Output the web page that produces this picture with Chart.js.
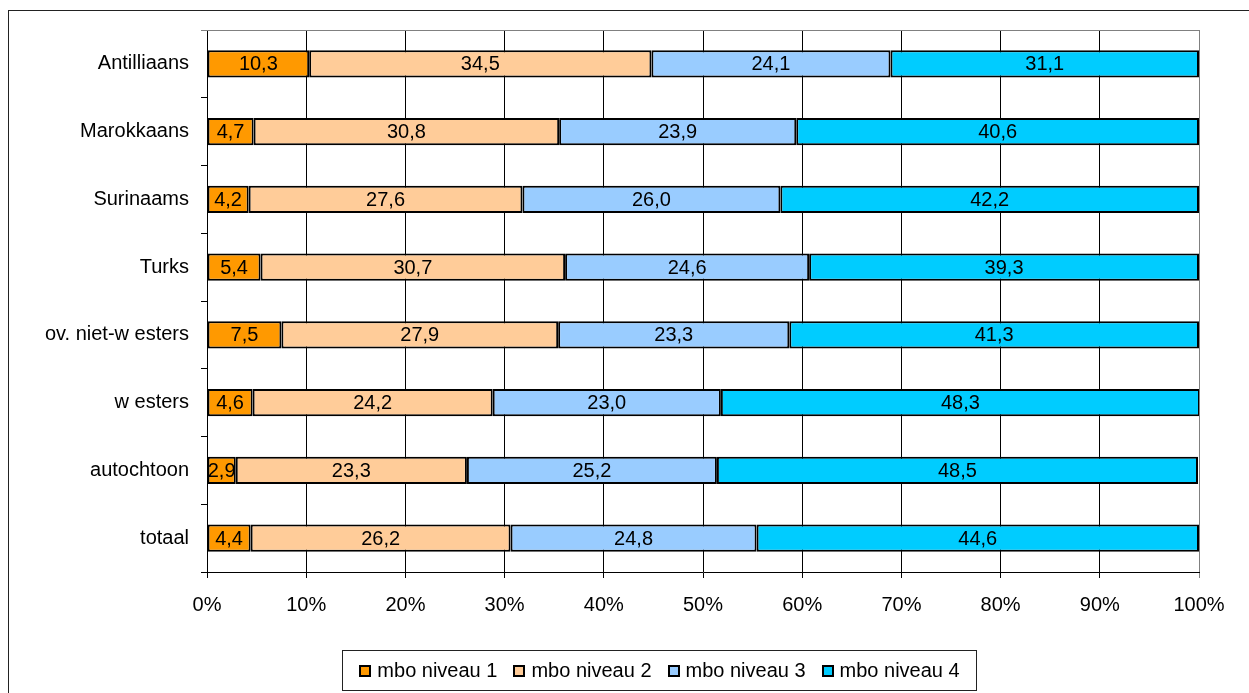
<!DOCTYPE html>
<html>
<head>
<meta charset="utf-8">
<script src="https://cdn.jsdelivr.net/npm/chart.js@4"></script>
<style>
    body { margin: 0; width: 1249px; height: 693px; overflow: hidden; background: #fff; font-family: "Liberation Sans", Arial, sans-serif; }
    #kader { position: absolute; left: 8px; top: 10px; width: 1400px; height: 900px; border: 1px solid #222; }
    #grafiek { position: absolute; left: 0; top: 0; width: 1249px; height: 693px; }
    #legenda { position: absolute; left: 342px; top: 650px; width: 633px; height: 39px; border: 1px solid #222;
               display: flex; align-items: center; justify-content: center; gap: 16px; font-size: 20px; color: #000; }
    .item { display: flex; align-items: center; }
    .blokje { width: 8px; height: 8px; border: 2px solid #000; margin-right: 6px; }
</style>
</head>
<body>
<div id="kader"></div>
<div id="grafiek"><canvas id="myChart"></canvas></div>
<div id="legenda"></div>

<script>
    // categorieen van boven naar beneden
    const categorieen = ['Antilliaans', 'Marokkaans', 'Surinaams', 'Turks', 'ov. niet-w esters', 'w esters', 'autochtoon', 'totaal'];

    const niveau1 = [10.3, 4.7, 4.2, 5.4, 7.5, 4.6, 2.9, 4.4];
    const niveau2 = [34.5, 30.8, 27.6, 30.7, 27.9, 24.2, 23.3, 26.2];
    const niveau3 = [24.1, 23.9, 26.0, 24.6, 23.3, 23.0, 25.2, 24.8];
    const niveau4 = [31.1, 40.6, 42.2, 39.3, 41.3, 48.3, 48.5, 44.6];

    const reeksNamen = ['mbo niveau 1', 'mbo niveau 2', 'mbo niveau 3', 'mbo niveau 4'];
    const kleuren = ['#FF9900', '#FFCC99', '#99CCFF', '#00CCFF'];
    const asTicks = [0, 10, 20, 30, 40, 50, 60, 70, 80, 90, 100];

    const reeksen = [niveau1, niveau2, niveau3, niveau4];
    const lettertype = '"Liberation Sans", Arial, sans-serif';

    // waarden in de balken tekenen
    const labelPlugin = {
        id: 'waardeLabels',
        afterDatasetsDraw(chart) {
            const ctx = chart.ctx;
            ctx.save();
            ctx.font = '20px ' + lettertype;
            ctx.fillStyle = '#000';
            ctx.textAlign = 'center';
            ctx.textBaseline = 'middle';
            chart.data.datasets.forEach((ds, i) => {
                chart.getDatasetMeta(i).data.forEach((el, j) => {
                    const p = el.getCenterPoint();
                    ctx.fillText(ds.data[j].toFixed(1).replace('.', ','), p.x, p.y + 1);
                });
            });
            ctx.restore();
        }
    };

    // grijze rand boven het plotgebied
    const randPlugin = {
        id: 'rand',
        beforeDatasetsDraw(chart) {
            const a = chart.chartArea;
            const ctx = chart.ctx;
            ctx.save();
            ctx.strokeStyle = '#808080';
            ctx.lineWidth = 1;
            ctx.beginPath();
            ctx.moveTo(a.left - 6, a.top + 0.5);
            ctx.lineTo(a.right, a.top + 0.5);
            ctx.stroke();
            ctx.restore();
        }
    };

    const config = {
        type: 'bar',
        data: {
            labels: categorieen,
            datasets: reeksen.map((r, i) => ({
                label: reeksNamen[i],
                data: r,
                backgroundColor: kleuren[i],
                borderColor: '#000',
                borderWidth: 2,
                borderSkipped: false,
                barPercentage: 0.4,
                categoryPercentage: 1
            }))
        },
        options: {
            indexAxis: 'y',
            responsive: true,
            maintainAspectRatio: false,
            animation: false,
            layout: { padding: { top: 30, right: 50, bottom: 71, left: 0 } },
            plugins: {
                legend: { display: false },
                tooltip: { enabled: false }
            },
            scales: {
                x: {
                    stacked: true,
                    min: 0,
                    max: 100,
                    afterBuildTicks: function (scale) {
                        scale.ticks = asTicks.map(v => ({ value: v }));
                    },
                    afterFit: function (scale) { scale.height = 50; },
                    grid: {
                        color: ctx => (ctx.tick && ctx.tick.value === 100) ? '#808080' : '#000',
                        lineWidth: 1,
                        tickLength: 6
                    },
                    border: { color: '#000', width: 1 },
                    ticks: {
                        padding: 15,
                        color: '#000',
                        font: { family: lettertype, size: 20 },
                        callback: v => v + '%',
                        maxRotation: 0
                    }
                },
                y: {
                    stacked: true,
                    afterFit: function (scale) { scale.width = 207; },
                    grid: {
                        drawOnChartArea: false,
                        color: '#000',
                        tickLength: 6
                    },
                    border: { color: '#000', width: 1 },
                    ticks: {
                        padding: 12,
                        color: '#000',
                        font: { family: lettertype, size: 20 }
                    }
                }
            }
        },
        plugins: [labelPlugin, randPlugin]
    };

    const myChart = new Chart(document.getElementById('myChart'), config);

    // legenda in html
    document.getElementById('legenda').innerHTML = reeksNamen.map((n, i) =>
        `<div class="item"><span class="blokje" style="background:${kleuren[i]}"></span>${n}</div>`
    ).join('');
</script>
</body>
</html>
